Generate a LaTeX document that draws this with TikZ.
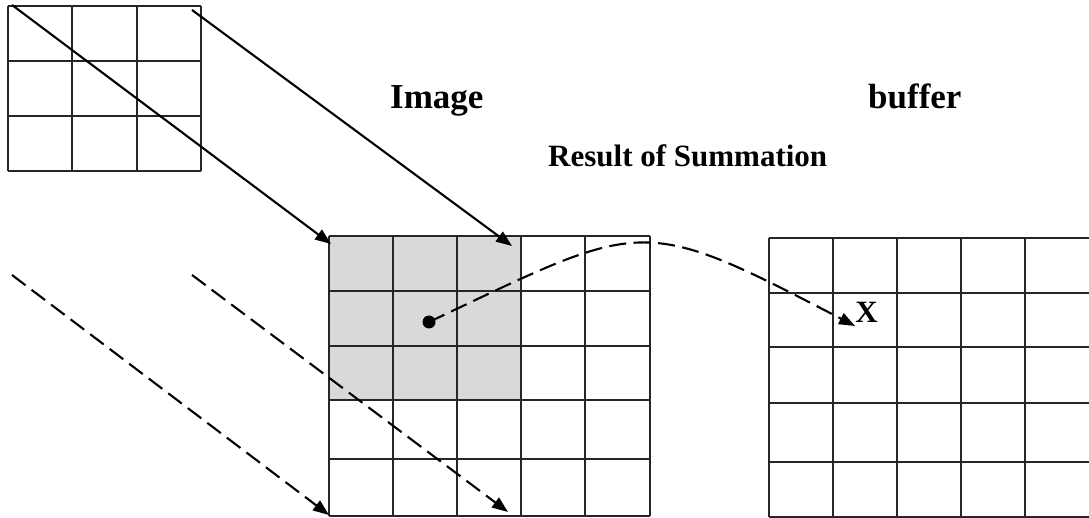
\documentclass[tikz,border=0pt]{standalone}
\usepackage{fontspec}
\setmainfont{Liberation Serif}
\usetikzlibrary{arrows.meta}
\begin{document}
\begin{tikzpicture}[x=1pt,y=-1pt,
  gridline/.style={line width=1.3pt, draw=black!85},
  cellfill/.style={fill=black!15},
  solidarrow/.style={line width=2.1pt, -{Triangle[length=16pt,width=12pt]}},
  dasharrow/.style={line width=2.1pt, dash pattern=on 17pt off 7.5pt, -{Triangle[length=16pt,width=12pt]}},
  biglbl/.style={font=\bfseries\fontsize{35}{40}\selectfont, inner sep=0pt, anchor=base west},
  midlbl/.style={font=\bfseries\fontsize{31}{36}\selectfont, inner sep=0pt, anchor=base west},
  dotstyle/.style={circle, fill=black, inner sep=0pt, minimum size=13pt},
]
\useasboundingbox (0,0) rectangle (1089,518);
% kernel grid
\foreach \x in {8,72,137,201} \draw[gridline] (\x,6) -- (\x,171);
\foreach \y in {6,61,116,171} \draw[gridline] (8,\y) -- (201,\y);
% image grid
\fill[cellfill] (329,236) rectangle (521,400);
\foreach \x in {329,393,457,521,585,650} \draw[gridline] (\x,236) -- (\x,516);
\foreach \y in {236,291,346,400,459,516} \draw[gridline] (329,\y) -- (650,\y);
% buffer grid
\foreach \x in {769,833,897,961,1025} \draw[gridline] (\x,238) -- (\x,517);
\foreach \y in {238,293,347,403,462,517} \draw[gridline] (769,\y) -- (1089,\y);
% labels
\node[biglbl] (image) at (390,109) {Image};
\node[biglbl] (buffer) at (868,109) {buffer};
\node[midlbl] (result) at (548,167) {Result of Summation};
\node[font=\bfseries\fontsize{31}{36}\selectfont, inner sep=0pt] (xlbl) at (866.5,312) {X};
\node[dotstyle] (dot) at (429,322) {};
% arrow endpoints
\coordinate (s1a) at (12,5);
\coordinate (s1b) at (331,244);
\coordinate (s2a) at (192,10);
\coordinate (s2b) at (512,246);
\coordinate (d1a) at (12,275);
\coordinate (d1b) at (329,515);
\coordinate (d2a) at (192,275);
\coordinate (d2b) at (508,512);
\coordinate (xend) at (855,326);
\draw[solidarrow] (s1a) -- (s1b);
\draw[solidarrow] (s2a) -- (s2b);
\draw[dasharrow] (d1a) -- (d1b);
\draw[dasharrow] (d2a) -- (d2b);
\draw[dasharrow] (dot.center) .. controls (645,220) and (638,213) .. (xend);
\end{tikzpicture}
\end{document}
